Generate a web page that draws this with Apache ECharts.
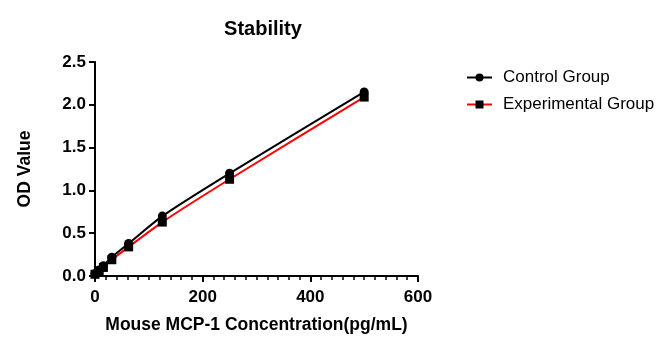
<!DOCTYPE html>
<html><head><meta charset="utf-8">
<script src="https://cdn.jsdelivr.net/npm/echarts@6/dist/echarts.min.js"></script>
<style>html,body{margin:0;padding:0;background:#fff}#c{width:672px;height:350px}</style>
</head><body><div id="c"></div>
<script>
const concentrations = [0, 7.8, 15.6, 31.25, 62.5, 125, 250, 500];
const controlGroup = [0.03, 0.07, 0.12, 0.22, 0.38, 0.70, 1.20, 2.15];
const experimentalGroup = [0.02, 0.06, 0.10, 0.19, 0.34, 0.63, 1.13, 2.09];
const seriesNames = ['Control Group', 'Experimental Group'];
const xTicks = [0, 200, 400, 600];
const yTicks = [0, 0.5, 1.0, 1.5, 2.0, 2.5];

const font = 'Liberation Sans, Arial, sans-serif';
const chart = echarts.init(document.getElementById('c'));
const pair = (ys) => concentrations.map((x, i) => [x, ys[i]]);
chart.setOption({
  animation: false,
  title: { text: 'Stability', left: 258, top: 14, textAlign: 'center',
    textStyle: { fontFamily: font, fontSize: 20, fontWeight: 'bold', color: '#000' } },
  legend: {
    orient: 'vertical', left: 461, top: 64, itemGap: 10, itemWidth: 25, itemHeight: 10,
    textStyle: { fontFamily: font, fontSize: 17, color: '#000', padding: [0, 0, 0, 6] },
    data: seriesNames
  },
  grid: { left: 95, right: 254, top: 62, bottom: 74 },
  xAxis: {
    type: 'value', min: 0, max: 600, interval: 200,
    name: 'Mouse MCP-1 Concentration(pg/mL)', nameLocation: 'middle', nameGap: 40,
    nameTextStyle: { fontFamily: font, fontSize: 17.5, fontWeight: 'bold', color: '#000' },
    axisLine: { lineStyle: { color: '#000', width: 2 } },
    axisTick: { length: 6, lineStyle: { color: '#000', width: 2 } },
    minorTick: { show: true, splitNumber: 10, length: 4, lineStyle: { color: '#000', width: 1.5 } },
    splitLine: { show: false },
    axisLabel: { fontFamily: font, fontSize: 17, fontWeight: 'bold', color: '#000', margin: 13,
      formatter: v => xTicks.includes(v) ? String(v) : '' }
  },
  yAxis: {
    type: 'value', min: 0, max: 2.5, interval: 0.5,
    name: 'OD Value', nameLocation: 'middle', nameGap: 61,
    nameTextStyle: { fontFamily: font, fontSize: 17.5, fontWeight: 'bold', color: '#000' },
    axisLine: { show: true, lineStyle: { color: '#000', width: 2 } },
    axisTick: { show: true, length: 6, lineStyle: { color: '#000', width: 2 } },
    splitLine: { show: false },
    axisLabel: { fontFamily: font, fontSize: 17, fontWeight: 'bold', color: '#000', margin: 9,
      formatter: v => yTicks.includes(v) ? v.toFixed(1) : '' }
  },
  series: [
    { name: seriesNames[0], type: 'line', smooth: 0.2, data: pair(controlGroup),
      symbol: 'circle', symbolSize: 9, lineStyle: { color: '#000', width: 2 },
      itemStyle: { color: '#000' } },
    { name: seriesNames[1], type: 'line', smooth: 0.2, data: pair(experimentalGroup),
      symbol: 'rect', symbolSize: 9, lineStyle: { color: '#ff0000', width: 2 },
      itemStyle: { color: '#000' } }
  ]
});
</script></body></html>
